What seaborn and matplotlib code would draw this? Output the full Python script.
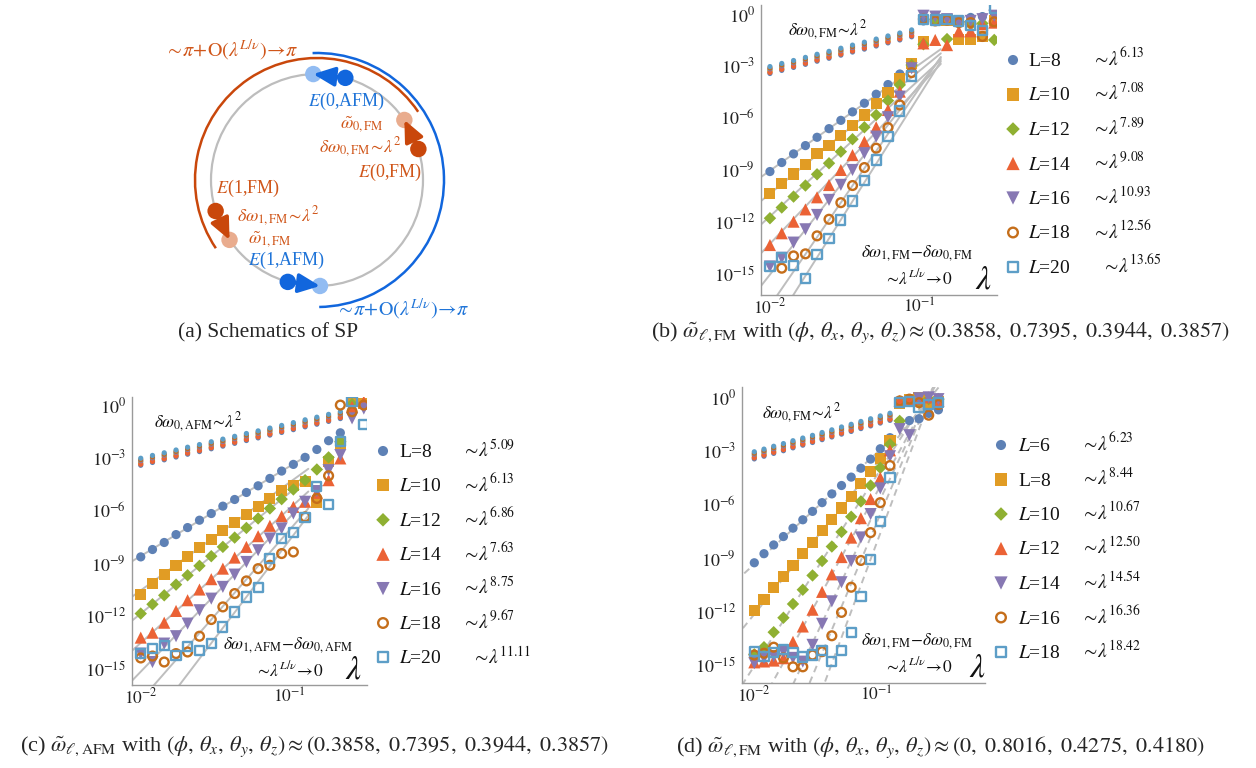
import numpy as np
import matplotlib
matplotlib.use("Agg")
import matplotlib.pyplot as plt
from matplotlib.patches import Circle, Arc
from matplotlib.ticker import FixedLocator, FixedFormatter, NullFormatter
import seaborn as sns

sns.set_theme(style="white")
plt.rcParams["font.family"] = ["Liberation Serif", "DejaVu Serif"]
plt.rcParams["mathtext.fontset"] = "stix"

W, H = 1256, 768

# ── shared data ────────────────────────────────────────────────────────────────
LAM = [0.0100, 0.0120, 0.0144, 0.0173, 0.0207, 0.0249, 0.0299, 0.0358, 0.0430, 0.0516,
       0.0619, 0.0743, 0.0892, 0.1070, 0.1284, 0.1541, 0.1849, 0.2219, 0.2662, 0.3195]

COLORS = ["#5E81B5", "#E19C24", "#8FB032", "#EB6235", "#8778B3", "#C56E1A", "#5D9EC7"]
MARKERS = ["o", "s", "D", "^", "v", "o", "s"]
OPEN = [False, False, False, False, False, True, True]
SIZES = [44, 64, 40, 76, 76, 40, 44]

# vertical spread of the small delta-omega_0 dots (log10), one per L
DW0_SHIFT = [-0.20, -0.10, 0.0, -0.14, 0.06, 0.12, 0.20]

# ── panel (b): log10 of the gap, FM sector ────────────────────────────────────
nan = np.nan
B_L8 = [-9.11, -8.59, -8.09, -7.61, -7.13, -6.63, -6.15, -5.66, -5.16, -4.64, -4.08, -3.47, -2.90,
        -0.40, -0.35, -0.30, -0.45, -0.20, -0.15, -0.10]
B_L10 = [-10.37, -9.79, -9.25, -8.69, -8.09, -7.59, -7.03, -6.44, -5.84, -5.20, -4.53, -3.76, -2.85,
         -1.60, -0.30, -0.35, -1.50, -1.50, -1.30, -0.40]
B_L12 = [-11.81, -11.19, -10.56, -9.92, -9.27, -8.63, -7.96, -7.24, -6.55, -5.84, -5.01, -4.10, -2.95,
         -1.75, -0.30, -1.45, -0.45, -0.60, -0.55, -1.50]
B_L14 = [-13.36, -12.68, -12.01, -11.30, -10.60, -9.89, -9.02, -8.16, -7.39, -6.55, -5.55, -4.49, -3.04,
         -1.70, -1.50, -1.80, -1.00, -1.00, -0.60, -0.50]
B_L16 = [-14.60, -14.10, -13.22, -12.45, -11.62, -10.75, -9.88, -9.02, -8.05, -7.09, -5.97, -4.78, -3.14,
         -0.10, -0.15, -0.30, -0.50, -0.40, -0.30, -0.10]
B_L18 = [nan, -14.70, -13.99, -13.87, -12.83, -11.87, -10.91, -9.92, -8.88, -7.76, -6.57, -5.26, -3.39,
         -0.30, -0.40, -0.35, -0.50, -0.50, -1.30, -0.45]
B_L20 = [-14.60, -14.07, -14.55, -15.28, -13.89, -12.97, -11.91, -10.81, -9.65, -8.44, -7.09, -5.61, -3.58,
         -0.30, -0.35, -0.30, -0.40, -0.65, -0.95, 0.35]
B_DW0 = [-3.24, -3.06, -2.89, -2.71, -2.53, -2.36, -2.18, -2.00, -1.83, -1.65, -1.47, -1.30, -1.12]
B_LABELS = ["L=8", "$L$=10", "$L$=12", "$L$=14", "$L$=16", "$L$=18", "$L$=20"]
B_EXP = ["6.13", "7.08", "7.89", "9.08", "10.93", "12.56", "13.65"]
B_FIT_AT01 = [-2.93, -3.31, -3.81, -4.21, -4.14, -4.32, -4.74]

# ── panel (c): AFM sector ─────────────────────────────────────────────────────
C_L8 = [-8.65, -8.23, -7.83, -7.38, -6.98, -6.56, -6.18, -5.76, -5.38, -4.98, -4.60, -4.18, -3.76,
        -3.38, -2.98, -2.53, -2.03, -1.58, -0.25, 0.05]
C_L10 = [-10.80, -10.17, -9.64, -9.13, -8.61, -8.12, -7.64, -7.17, -6.69, -6.24, -5.76, -5.32, -4.89,
         -4.56, -4.33, -5.55, -3.20, -2.20, 0.19, 0.10]
C_L12 = [-11.88, -11.35, -10.84, -10.23, -9.70, -9.16, -8.61, -8.08, -7.55, -7.00, -6.46, -5.89, -5.36,
         -4.81, -4.28, -3.67, -2.98, -2.09, 0.05, 0.00]
C_L14 = [-13.25, -12.97, -12.40, -11.73, -11.12, -10.51, -9.92, -9.32, -8.69, -8.08, -7.47, -6.88, -6.33,
         -5.80, -5.51, -5.00, -4.28, -3.04, -0.10, 0.19]
C_L16 = [-14.16, -14.64, -13.59, -13.17, -12.45, -11.69, -11.03, -10.36, -9.66, -8.94, -8.27, -7.60, -7.03,
         -6.18, -5.51, -4.90, -3.71, -2.85, -0.76, -0.20]
C_L18 = [-14.41, -14.30, -14.64, -14.16, -14.07, -13.17, -12.22, -11.50, -10.74, -10.02, -9.32, -9.13, -8.46,
         -8.37, -6.37, -5.32, -4.03, 0.00, -0.38, 0.00]
C_L20 = [-14.16, -13.88, -13.69, -14.26, -13.75, -13.97, -13.59, -12.64, -11.79, -10.93, -10.40, -8.75, -7.60,
         -7.28, -6.41, -4.66, -5.65, -2.09, 0.19, -1.10]
C_DW0 = [-3.23, -3.07, -2.92, -2.76, -2.60, -2.45, -2.29, -2.14, -1.98, -1.82, -1.67, -1.51, -1.36,
         -1.20, -1.04, -0.89, -0.73, -0.57]
C_LABELS = ["L=8", "$L$=10", "$L$=12", "$L$=14", "$L$=16", "$L$=18", "$L$=20"]
C_EXP = ["5.09", "6.13", "6.86", "7.63", "8.75", "9.67", "11.11"]
C_FIT_AT01 = [-3.51, -4.43, -5.02, -5.92, -6.44, -7.15, -7.74]

# ── panel (d): FM sector, second parameter set ────────────────────────────────
D_L6 = [-9.27, -8.76, -8.27, -7.80, -7.33, -6.86, -6.39, -5.90, -5.41, -4.94, -4.47, -3.97, -3.46,
        -2.88, -2.26, -1.35, -1.30, -1.20, -0.90, -0.70]
D_L8 = [-11.95, -11.33, -10.68, -10.02, -9.40, -8.76, -8.14, -7.48, -6.84, -6.20, -5.55, -4.85, -4.14,
        -3.44, -2.41, -0.34, -0.10, 0.00, -0.30, -0.25]
D_L10 = [-14.40, -14.00, -13.16, -12.35, -11.58, -10.78, -9.98, -9.17, -8.36, -7.54, -6.69, -5.83, -4.94,
         -3.95, -2.63, -1.32, -0.20, -0.30, -0.10, -0.10]
D_L12 = [-14.85, -14.80, -14.75, -14.62, -13.70, -12.84, -11.90, -10.90, -9.92, -8.95, -7.86, -6.77, -5.70,
         -4.51, -2.97, -0.20, -0.15, -0.10, 0.00, -0.20]
D_L14 = [-14.90, -14.60, -14.50, -14.25, -14.60, -14.81, -13.87, -12.69, -11.43, -10.36, -9.17, -7.85, -6.54,
         -5.10, -3.30, -1.78, -2.12, -0.05, 0.00, -0.10]
D_L16 = [-14.44, -14.34, -14.00, -14.60, -15.10, -15.10, -14.44, -14.25, -13.36, -12.05, -10.64, -9.14, -7.58,
         -5.90, -3.82, -0.20, -0.10, -0.30, -1.00, -0.40]
D_L18 = [-14.25, -14.50, -14.30, -14.15, -14.30, -14.55, -14.44, -14.20, -14.81, -14.19, -13.18, -11.15, -9.08,
         -6.95, -4.47, -0.30, -0.25, -0.58, -0.40, -0.30]
D_DW0 = [-3.25, -3.10, -2.94, -2.79, -2.63, -2.48, -2.33, -2.17, -2.02, -1.86, -1.71, -1.55, -1.40,
         -1.24, -1.09]
D_LABELS = ["$L$=6", "L=8", "$L$=10", "$L$=12", "$L$=14", "$L$=16", "$L$=18"]
D_EXP = ["6.23", "8.44", "10.67", "12.50", "14.54", "16.36", "18.42"]
D_FIT_AT01 = [-3.12, -3.71, -4.38, -5.34, -6.14, -7.03, -8.16]

YTICK_EXP = [0, -3, -6, -9, -12, -15]
XTICK_EXP = [-2, -1]
XMINOR = [0.02, 0.03, 0.04, 0.05, 0.06, 0.07, 0.08, 0.09, 0.2, 0.3, 0.4, 0.5, 0.6, 0.7]

# ── schematic (a) ─────────────────────────────────────────────────────────────
CX, CY, R0 = 317, 180, 106
R_FM_ARC, R_AFM_ARC = 122, 127
FM_ARC = (34, 214)
AFM_ARC = (-89, 92)
# (sector, angle of E, angle of omega-tilde) in degrees, counter-clockwise
STATES = [("afm", 74.5, 92.0), ("fm", 17.0, 34.5), ("fm", 197.0, 214.4), ("afm", 254.0, 271.6)]

ORANGE, ORANGE_L = "#C9470B", "#E9AC8E"
BLUE, BLUE_L = "#1166DD", "#92BCF2"
TXT_OR, TXT_BL = "#D0561A", "#1F74D8"


def px_axes(fig, left, top, right, bottom):
    return fig.add_axes([left / W, 1 - bottom / H, (right - left) / W, (bottom - top) / H])


def draw_panel(ax, series, dw0, fit_exp, fit_at01, lam_end, dashed, xlim, ylim):
    lam = np.array(LAM)
    ax.set_xscale("log")
    ax.set_yscale("log")
    for p, a in zip(fit_exp, fit_at01):
        xs = np.array([10 ** (xlim[0] - 0.05), lam_end])
        ys = 10 ** (a + p * (np.log10(xs) + 1))
        ax.plot(xs, ys, color="#BEBEBE", lw=1.4,
                ls=(0, (3.5, 2.5)) if dashed else "-", zorder=1)
    for i in range(len(series)):
        y = 10 ** (np.array(dw0) + DW0_SHIFT[i])
        sns.scatterplot(x=lam[:len(dw0)], y=y, color=COLORS[i], s=14,
                        edgecolor="none", ax=ax, legend=False, zorder=2)
    for i, vals in enumerate(series):
        y = 10 ** np.array(vals, dtype=float)
        ok = ~np.isnan(y)
        if OPEN[i]:
            kw = dict(facecolor="none", edgecolor=COLORS[i], linewidth=1.7)
        else:
            kw = dict(edgecolor="none")
        sns.scatterplot(x=lam[ok], y=y[ok], marker=MARKERS[i], s=SIZES[i], color=COLORS[i],
                        ax=ax, legend=False, zorder=3 + i, **kw)

    ax.set_xlim(10 ** xlim[0], 10 ** xlim[1])
    ax.set_ylim(10 ** ylim[0], 10 ** ylim[1])
    ax.set_facecolor("none")
    for s in ["top", "right"]:
        ax.spines[s].set_visible(False)
    for s in ["left", "bottom"]:
        ax.spines[s].set_color("#9A9A9A")
        ax.spines[s].set_linewidth(1.0)
    ax.yaxis.set_major_locator(FixedLocator([10.0 ** e for e in YTICK_EXP]))
    ax.yaxis.set_major_formatter(FixedFormatter([r"$10^{%d}$" % e for e in YTICK_EXP]))
    ax.yaxis.set_minor_locator(FixedLocator([]))
    ax.xaxis.set_major_locator(FixedLocator([10.0 ** e for e in XTICK_EXP]))
    ax.xaxis.set_major_formatter(FixedFormatter([r"$10^{%d}$" % e for e in XTICK_EXP]))
    ax.xaxis.set_minor_locator(FixedLocator([v for v in XMINOR if v < 10 ** xlim[1]]))
    ax.xaxis.set_minor_formatter(NullFormatter())
    ax.tick_params(which="major", direction="in", length=5, width=0.8, color="#9A9A9A",
                   labelsize=13, labelcolor="#222222", pad=4)
    ax.tick_params(axis="x", which="major", labelsize=12.5, pad=2)
    ax.tick_params(which="minor", direction="in", length=3, width=0.7, color="#9A9A9A")
    ax.grid(False)


def draw_legend(ax0, x_mark, x_lab, x_exp, y0, dy, labels, exps, last_shift):
    for i, (lab, e) in enumerate(zip(labels, exps)):
        y = y0 + i * dy
        if OPEN[i]:
            kw = dict(facecolors="none", edgecolors=COLORS[i], linewidths=1.7)
        else:
            kw = dict(color=COLORS[i], edgecolors="none")
        ax0.scatter([x_mark], [y], marker=MARKERS[i], s=SIZES[i] * 1.2, **kw)
        ax0.text(x_lab, y + 6, lab, fontsize=14, ha="left", va="baseline", color="#111111")
        xe = x_exp + (last_shift if i == len(labels) - 1 else 0)
        ax0.text(xe, y + 6, r"$\sim\!\lambda^{%s}$" % e, fontsize=14, ha="left",
                 va="baseline", color="#111111")


fig = plt.figure(figsize=(W / 100, H / 100), dpi=100)
ax0 = fig.add_axes([0, 0, 1, 1])
ax0.set_xlim(0, W)
ax0.set_ylim(H, 0)
ax0.axis("off")

# ── (a) schematic ─────────────────────────────────────────────────────────────
ax0.add_patch(Circle((CX, CY), R0, fill=False, ec="#BDBDBD", lw=1.6))
ax0.add_patch(Arc((CX, CY), 2 * R_FM_ARC, 2 * R_FM_ARC, theta1=-FM_ARC[1], theta2=-FM_ARC[0],
                  color=ORANGE, lw=1.8))
ax0.add_patch(Arc((CX, CY), 2 * R_AFM_ARC, 2 * R_AFM_ARC, theta1=-AFM_ARC[1], theta2=-AFM_ARC[0],
                  color=BLUE, lw=1.8))


def on_circle(a):
    t = np.deg2rad(a)
    return CX + R0 * np.cos(t), CY - R0 * np.sin(t)


for sector, a_e, a_w in STATES:
    dark, light = (BLUE, BLUE_L) if sector == "afm" else (ORANGE, ORANGE_L)
    pe, pw = on_circle(a_e), on_circle(a_w)
    ax0.scatter([pw[0]], [pw[1]], s=140, color=light, edgecolors="none", zorder=3)
    ax0.annotate("", xy=pw, xytext=pe, zorder=4,
                 arrowprops=dict(arrowstyle="-|>,head_length=1.0,head_width=0.45", lw=2.6,
                                 color=dark, shrinkA=0, shrinkB=0, mutation_scale=13))
    ax0.scatter([pe[0]], [pe[1]], s=140, color=dark, edgecolors="none", zorder=5)

FS_A = 13
ax0.text(232, 50, r"$\sim\!\pi\!+\!\mathrm{O}(\lambda^{L/\nu})\!\rightarrow\!\pi$", color=TXT_OR,
         fontsize=14.5, ha="center", va="center")
ax0.text(403, 309, r"$\sim\!\pi\!+\!\mathrm{O}(\lambda^{L/\nu})\!\rightarrow\!\pi$", color=TXT_BL,
         fontsize=14.5, ha="center", va="center")
ax0.text(346, 101, r"$E$(0,AFM)", color=TXT_BL, fontsize=FS_A, ha="center", va="center")
ax0.text(362, 125, r"$\tilde{\omega}_{0,\mathrm{FM}}$", color=TXT_OR, fontsize=FS_A,
         ha="center", va="center")
ax0.text(401, 147, r"$\delta\omega_{0,\mathrm{FM}}\!\sim\!\lambda^2$", color=TXT_OR,
         fontsize=FS_A, ha="right", va="center")
ax0.text(390, 172, r"$E$(0,FM)", color=TXT_OR, fontsize=FS_A, ha="center", va="center")
ax0.text(248, 188, r"$E$(1,FM)", color=TXT_OR, fontsize=FS_A, ha="center", va="center")
ax0.text(237, 216, r"$\delta\omega_{1,\mathrm{FM}}\!\sim\!\lambda^2$", color=TXT_OR,
         fontsize=FS_A, ha="left", va="center")
ax0.text(270, 240, r"$\tilde{\omega}_{1,\mathrm{FM}}$", color=TXT_OR, fontsize=FS_A,
         ha="center", va="center")
ax0.text(286, 260, r"$E$(1,AFM)", color=TXT_BL, fontsize=FS_A, ha="center", va="center")

# ── data panels ───────────────────────────────────────────────────────────────
XLIM_B, YLIM_B = (-2.062, -0.477), (-16.25, 0.52)
XLIM_C, YLIM_C = (-2.061, -0.476), (-15.95, 0.46)
XLIM_D, YLIM_D = (-2.103, -0.115), (-15.99, 0.58)

ax_b = px_axes(fig, 760.7, 5, 997, 295)
draw_panel(ax_b, [B_L8, B_L10, B_L12, B_L14, B_L16, B_L18, B_L20], B_DW0,
           [float(e) for e in B_EXP], B_FIT_AT01, 0.14, False, XLIM_B, YLIM_B)

ax_c = px_axes(fig, 131.7, 397, 366.7, 685)
draw_panel(ax_c, [C_L8, C_L10, C_L12, C_L14, C_L16, C_L18, C_L20], C_DW0,
           [float(e) for e in C_EXP], C_FIT_AT01, 0.135, False, XLIM_C, YLIM_C)

ax_d = px_axes(fig, 741.7, 387, 985, 682.7)
draw_panel(ax_d, [D_L6, D_L8, D_L10, D_L12, D_L14, D_L16, D_L18], D_DW0,
           [float(e) for e in D_EXP], D_FIT_AT01, 0.33, True, XLIM_D, YLIM_D)

# in-plot annotations (pixel positions on the overlay)
FS_N = 12.5
for (x, y), sect in [((828, 30), "FM"), ((198, 422), "AFM"), ((802, 413), "FM")]:
    ax0.text(x, y, r"$\delta\omega_{0,\mathrm{%s}}\!\sim\!\lambda^2$" % sect, fontsize=FS_N,
             ha="center", va="center", color="#111111")
for (x, y), sect in [((917, 253), "FM"), ((288, 645), "AFM"), ((917, 641), "FM")]:
    ax0.text(x, y, r"$\delta\omega_{1,\mathrm{%s}}\!-\!\delta\omega_{0,\mathrm{%s}}$" % (sect, sect),
             fontsize=FS_N, ha="center", va="center", color="#111111")
    ax0.text(x + 1, y + 25, r"$\sim\!\lambda^{L/\nu}\!\rightarrow\!0$", fontsize=FS_N,
             ha="center", va="center", color="#111111")
for x, y in [(983, 280), (353, 670), (977, 668)]:
    ax0.text(x, y, r"$\lambda$", fontsize=24, ha="center", va="center", color="#111111")

draw_legend(ax0, 1013, 1028, 1092, 60, 34.5, B_LABELS, B_EXP, 10)
draw_legend(ax0, 383, 399, 462, 451, 34.4, C_LABELS, C_EXP, 10)
draw_legend(ax0, 1001, 1018, 1081, 445, 34.5, D_LABELS, D_EXP, 0)

# ── captions ──────────────────────────────────────────────────────────────────
FS_CAP = 16
ax0.text(268, 333, "(a) Schematics of SP", fontsize=15.5, ha="center", va="center")
ax0.text(940, 333, r"(b) $\tilde{\omega}_{\ell,\mathrm{FM}}$ with "
         r"$(\phi,\,\theta_x,\,\theta_y,\,\theta_z)\approx(0.3858,\ 0.7395,\ 0.3944,\ 0.3857)$",
         fontsize=FS_CAP, ha="center", va="center")
ax0.text(314, 747, r"(c) $\tilde{\omega}_{\ell,\mathrm{AFM}}$ with "
         r"$(\phi,\,\theta_x,\,\theta_y,\,\theta_z)\approx(0.3858,\ 0.7395,\ 0.3944,\ 0.3857)$",
         fontsize=FS_CAP, ha="center", va="center")
ax0.text(940, 747, r"(d) $\tilde{\omega}_{\ell,\mathrm{FM}}$ with "
         r"$(\phi,\,\theta_x,\,\theta_y,\,\theta_z)\approx(0,\ 0.8016,\ 0.4275,\ 0.4180)$",
         fontsize=FS_CAP, ha="center", va="center")

fig.savefig("out.png", dpi=100)
